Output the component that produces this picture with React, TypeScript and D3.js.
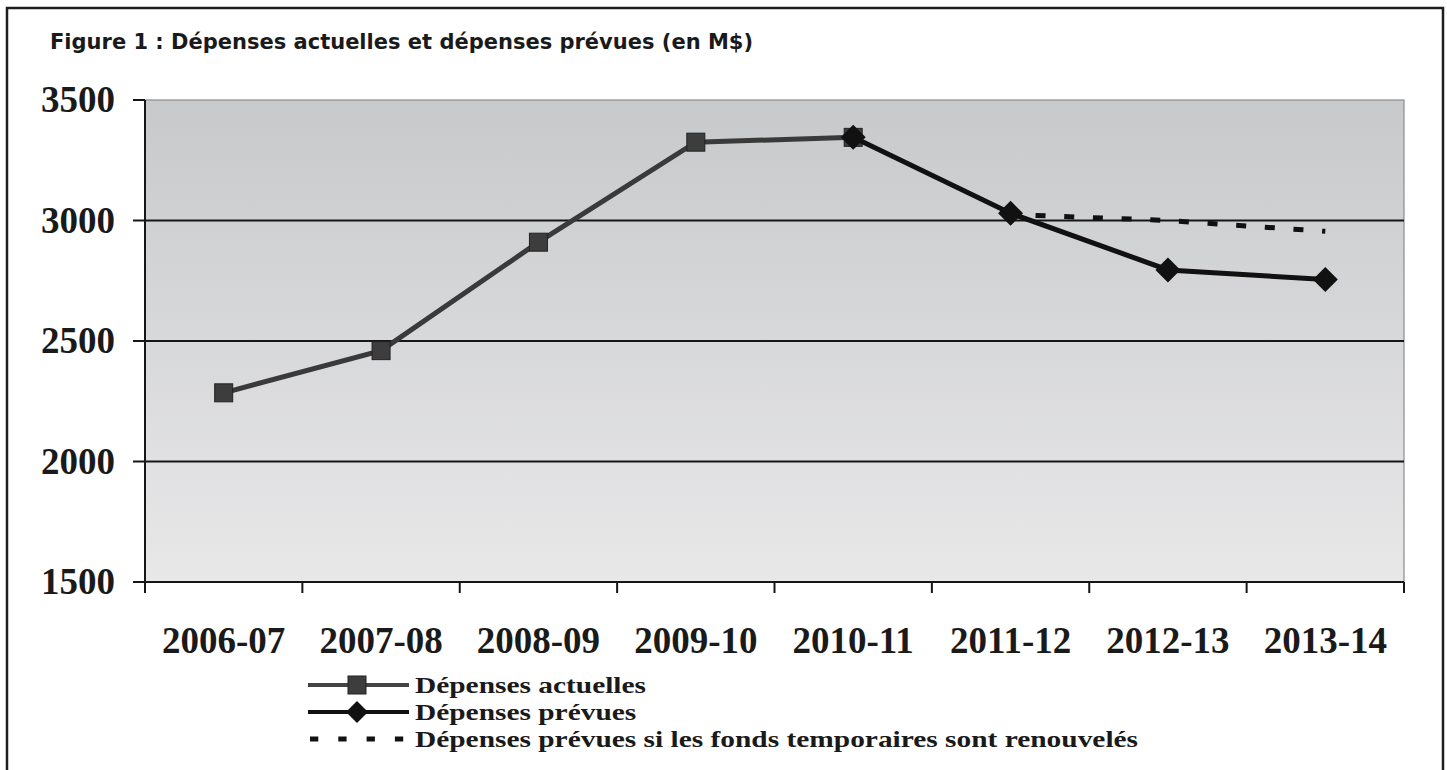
import React from "react";
import * as d3 from "d3";

const categories = ["2006-07", "2007-08", "2008-09", "2009-10", "2010-11", "2011-12", "2012-13", "2013-14"];
const actualValues: (number | null)[] = [2285, 2460, 2910, 3325, 3345, null, null, null];
const plannedValues: (number | null)[] = [null, null, null, null, 3345, 3030, 2795, 2755];
const renewedValues: (number | null)[] = [null, null, null, null, null, 3025, 3000, 2955];
const yTicks = [1500, 2000, 2500, 3000, 3500];
const title = "Figure 1 : Dépenses actuelles et dépenses prévues (en M$)";
const legendLabels = [
  "Dépenses actuelles",
  "Dépenses prévues",
  "Dépenses prévues si les fonds temporaires sont renouvelés",
];

const W = 1447;
const H = 770;
const left = 145;
const right = 1404;
const top = 100;
const bottom = 582;
const serif = "'Liberation Serif', 'Times New Roman', serif";

export default function App() {
  const x = d3.scaleBand<string>().domain(categories).range([left, right]).paddingInner(0).paddingOuter(0);
  const cx = (c: string) => (x(c) as number) + x.bandwidth() / 2;
  const y = d3.scaleLinear().domain([1500, 3500]).range([bottom, top]);

  const mk = (vals: (number | null)[]) =>
    d3
      .line<number | null>()
      .defined((d) => d !== null)
      .x((_, i) => cx(categories[i]))
      .y((d) => y(d as number))(vals) || "";

  const boundaries = [...categories.map((c) => x(c) as number), right];
  const sq = 18;
  const dm = 12.5;
  const diamond = (px: number, py: number, r: number) =>
    `M${px},${py - r}L${px + r},${py}L${px},${py + r}L${px - r},${py}Z`;

  const legendY = [685, 712, 739];
  const legendStretch = 1.225;

  return (
    <div style={{ position: "absolute", left: 0, top: 0 }}>
      <svg width={W} height={H} style={{ display: "block", background: "#fff" }}>
        <defs>
          <linearGradient id="bg" x1="0" y1="0" x2="0" y2="1">
            <stop offset="0%" stopColor="#c8c9cb" />
            <stop offset="100%" stopColor="#e8e8e9" />
          </linearGradient>
        </defs>
        {/* outer frame */}
        <rect x={7} y={8} width={1436} height={780} fill="#fff" stroke="#1e1e1e" strokeWidth={2.5} />
        <text x={50} y={49} fontFamily="'DejaVu Sans', Verdana, sans-serif" fontWeight="bold" fontSize={21} fill="#1a1a1a">
          {title}
        </text>
        {/* plot background */}
        <rect x={left} y={top} width={right - left} height={bottom - top} fill="url(#bg)" stroke="#8c8c8c" strokeWidth={1.2} />
        {/* gridlines */}
        {yTicks.slice(1, -1).map((t) => (
          <line key={t} x1={left} x2={right} y1={y(t)} y2={y(t)} stroke="#161616" strokeWidth={2} />
        ))}
        {/* axes */}
        <line x1={left} x2={left} y1={top} y2={bottom} stroke="#161616" strokeWidth={2} />
        <line x1={left} x2={right} y1={bottom} y2={bottom} stroke="#161616" strokeWidth={2} />
        {yTicks.map((t) => (
          <g key={t}>
            <line x1={133} x2={left} y1={y(t)} y2={y(t)} stroke="#161616" strokeWidth={2} />
            <text x={115} y={y(t) + 12} textAnchor="end" fontFamily={serif} fontWeight="bold" fontSize={37} fill="#1a1a1a">
              {t}
            </text>
          </g>
        ))}
        {boundaries.map((b, i) => (
          <line key={i} x1={b} x2={b} y1={bottom} y2={bottom + 11} stroke="#161616" strokeWidth={2} />
        ))}
        {categories.map((c) => (
          <text key={c} x={cx(c)} y={653} textAnchor="middle" fontFamily={serif} fontWeight="bold" fontSize={37} fill="#1a1a1a">
            {c}
          </text>
        ))}
        {/* dashed series */}
        <path d={mk(renewedValues)} fill="none" stroke="#111" strokeWidth={5} strokeDasharray="10,18.7" strokeDashoffset={3.7} />
        {/* actual series */}
        <path d={mk(actualValues)} fill="none" stroke="#3a3a3a" strokeWidth={5} />
        {actualValues.map((v, i) =>
          v === null ? null : (
            <rect key={i} x={cx(categories[i]) - sq / 2} y={y(v) - sq / 2} width={sq} height={sq} fill="#3d3d3d" stroke="#222" strokeWidth={1} />
          )
        )}
        {/* planned series */}
        <path d={mk(plannedValues)} fill="none" stroke="#111" strokeWidth={5} />
        {plannedValues.map((v, i) =>
          v === null ? null : <path key={i} d={diamond(cx(categories[i]), y(v), dm)} fill="#111" />
        )}
        {/* legend */}
        <line x1={308} x2={409} y1={legendY[0]} y2={legendY[0]} stroke="#444" strokeWidth={4} />
        <rect x={357 - sq / 2} y={legendY[0] - sq / 2} width={sq} height={sq} fill="#3d3d3d" stroke="#222" strokeWidth={1} />
        <line x1={308} x2={409} y1={legendY[1]} y2={legendY[1]} stroke="#111" strokeWidth={4} />
        <path d={diamond(357, legendY[1], 11)} fill="#111" />
        <line x1={310} x2={409} y1={legendY[2]} y2={legendY[2]} stroke="#111" strokeWidth={5} strokeDasharray="8.3,20" />
        <g transform={`translate(415,0) scale(${legendStretch},1)`}>
          {legendLabels.map((l, i) => (
            <text key={l} x={0} y={legendY[i] + 8} fontFamily={serif} fontWeight="bold" fontSize={24} fill="#1a1a1a">
              {l}
            </text>
          ))}
        </g>
      </svg>
    </div>
  );
}
